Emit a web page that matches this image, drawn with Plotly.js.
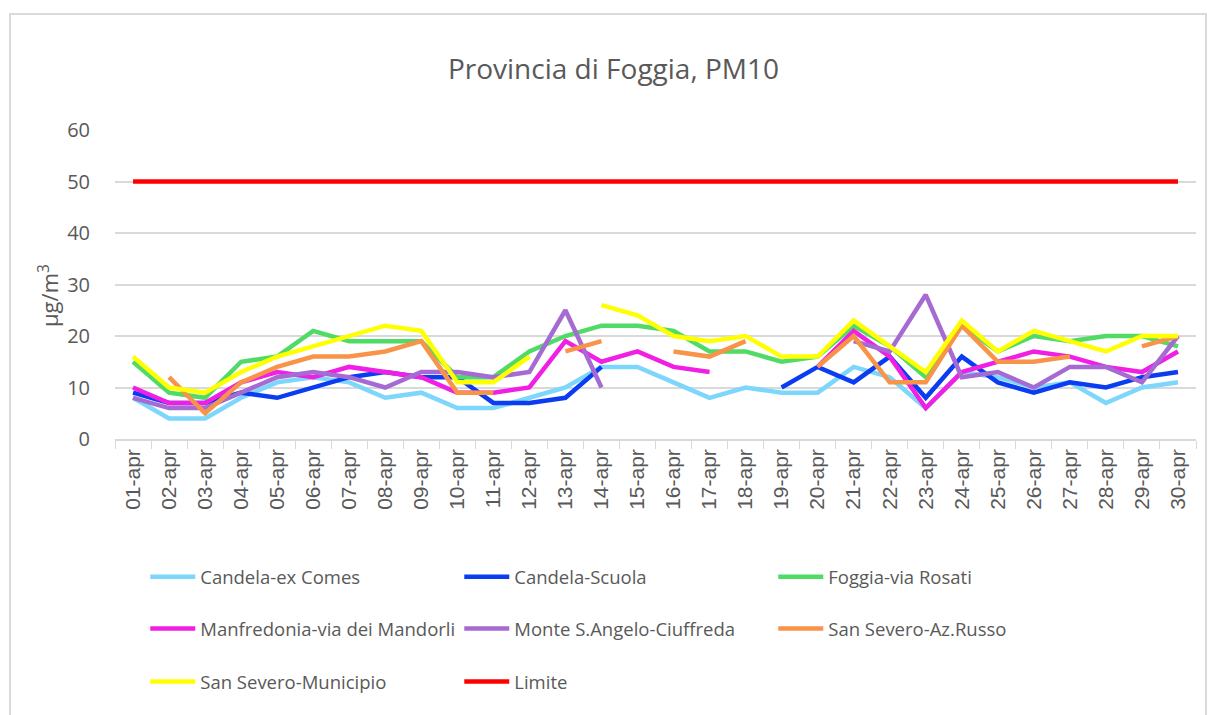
<!DOCTYPE html>
<html>
<head>
<meta charset="utf-8">
<script src="https://cdn.plot.ly/plotly-3.0.1.min.js"></script>
<style>
  body { margin: 0; padding: 0; background: #ffffff; }
  #chart { width: 1210px; height: 715px; position: absolute; left: 0; top: 0; }
  #frame { position: absolute; left: 9px; top: 13px; width: 1194px; height: 720px;
           border: 2px solid #d9d9d9; pointer-events: none; }
</style>
</head>
<body>
<div id="chart"></div>
<div id="frame"></div>
<script>
const days = ["01-apr","02-apr","03-apr","04-apr","05-apr","06-apr","07-apr","08-apr","09-apr","10-apr",
              "11-apr","12-apr","13-apr","14-apr","15-apr","16-apr","17-apr","18-apr","19-apr","20-apr",
              "21-apr","22-apr","23-apr","24-apr","25-apr","26-apr","27-apr","28-apr","29-apr","30-apr"];

const candelaExComes = [8,4,4,8,11,12,11,8,9,6, 6,8,10,14,14,11,8,10,9,9, 14,12,6,13,12,10,11,7,10,11];
const candelaScuola  = [9,7,7,9,8,10,12,13,12,12, 7,7,8,14,null,null,null,null,10,14, 11,16,8,16,11,9,11,10,12,13];
const foggiaRosati   = [15,9,8,15,16,21,19,19,19,12, 12,17,20,22,22,21,17,17,15,16, 22,18,12,22,17,20,19,20,20,18];
const manfredonia    = [10,7,7,11,13,12,14,13,12,9, 9,10,19,15,17,14,13,null,null,14, 21,16,6,13,15,17,16,14,13,17];
const monteSAngelo   = [8,6,6,9,12,13,12,10,13,13, 12,13,25,10,null,null,null,null,null,null, 19,17,28,12,13,10,14,14,11,20];
const sanSeveroRusso = [null,12,5,11,14,16,16,17,19,9, 9,null,17,19,null,17,16,19,null,14, 20,11,11,22,15,15,16,null,18,20];
const sanSeveroMun   = [16,10,9,13,16,18,20,22,21,11, 11,16,null,26,24,20,19,20,16,16, 23,18,13,23,17,21,19,17,20,20];
const limite         = [50,50,50,50,50,50,50,50,50,50, 50,50,50,50,50,50,50,50,50,50, 50,50,50,50,50,50,50,50,50,50];

const series = [
  {name: "Candela-ex Comes", y: candelaExComes, color: "#7dd6fb", legend: "legend"},
  {name: "Candela-Scuola", y: candelaScuola, color: "#0a3cf2", legend: "legend"},
  {name: "Foggia-via Rosati", y: foggiaRosati, color: "#4fdb66", legend: "legend"},
  {name: "Manfredonia-via dei Mandorli", y: manfredonia, color: "#f01fe3", legend: "legend2"},
  {name: "Monte S.Angelo-Ciuffreda", y: monteSAngelo, color: "#a56bd3", legend: "legend2"},
  {name: "San Severo-Az.Russo", y: sanSeveroRusso, color: "#f8944a", legend: "legend2"},
  {name: "San Severo-Municipio", y: sanSeveroMun, color: "#ffff00", legend: "legend3"},
  {name: "Limite", y: limite, color: "#ff0000", legend: "legend3"}
];

const traces = series.map(s => ({
  type: "scatter", mode: "lines", x: days, y: s.y, name: s.name,
  line: {color: s.color, width: 4.5}, connectgaps: false, legend: s.legend,
  hoverinfo: "x+y+name"
}));

const legFont = {family: "Open Sans, Noto Sans, sans-serif", size: 18.5, color: "#595959"};
function leg(y) {
  return {orientation: "h", x: 0.028, xanchor: "left", y: y, yanchor: "middle",
          entrywidth: 254, entrywidthmode: "pixels", font: legFont,
          bgcolor: "rgba(0,0,0,0)", itemwidth: 45, traceorder: "normal"};
}

const layout = {
  width: 1210, height: 715,
  paper_bgcolor: "#ffffff", plot_bgcolor: "#ffffff",
  margin: {l: 115, r: 14, t: 130, b: 276},
  title: {text: "Provincia di Foggia, PM10", x: 0.507, xanchor: "center", y: 0.903, yanchor: "middle",
          font: {family: "Open Sans, Noto Sans, sans-serif", size: 28, color: "#595959"}},
  xaxis: {
    type: "category", range: [-0.5, 29.5], tickangle: -90,
    tickfont: {family: "Liberation Sans, Arial, sans-serif", size: 21, color: "#595959"},
    showgrid: false, showline: true, linecolor: "#d9d9d9", linewidth: 1.5,
    ticks: "outside", tickson: "boundaries", ticklen: 8, tickcolor: "#d9d9d9", tickwidth: 1,
    zeroline: false, fixedrange: true
  },
  yaxis: {
    range: [0, 60], dtick: 10, tick0: 0,
    tickfont: {family: "Open Sans, Noto Sans, sans-serif", size: 20, color: "#595959"},
    showgrid: true, gridcolor: "#d9d9d9", gridwidth: 1.5, zeroline: false, showline: false,
    ticks: "", ticklabelstandoff: 24,
    fixedrange: true
  },
  annotations: [{
    text: "µg/m<sup>3</sup>", xref: "paper", yref: "paper", x: -0.062, y: 0.466,
    xanchor: "center", yanchor: "middle", textangle: -90, showarrow: false,
    font: {family: "Open Sans, Noto Sans, sans-serif", size: 22, color: "#595959"}
  }],
  legend: leg(-0.447),
  legend2: leg(-0.615),
  legend3: leg(-0.786),
  showlegend: true
};

Plotly.newPlot("chart", traces, layout, {displayModeBar: false, staticPlot: false});
</script>
</body>
</html>
